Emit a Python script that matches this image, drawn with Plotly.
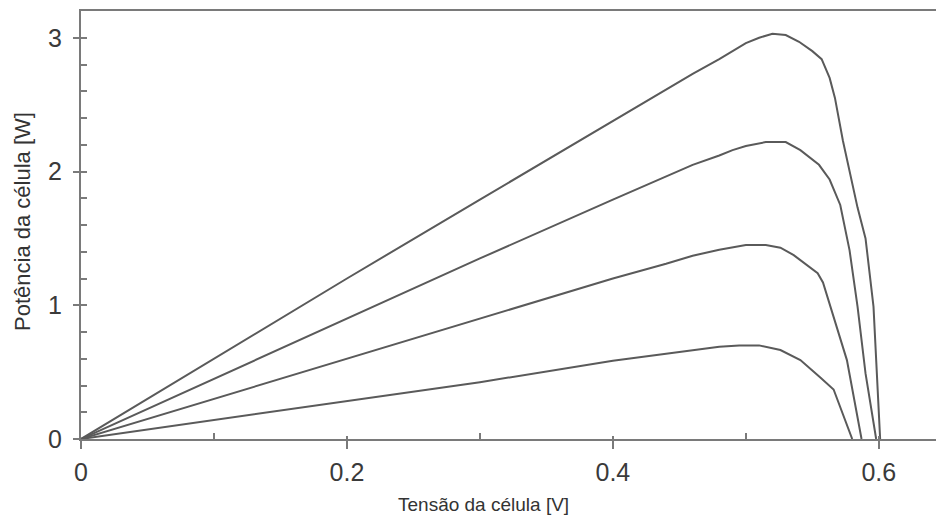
import plotly.graph_objects as go

# Data (V, P)
v1 = [0, 0.1, 0.2, 0.3, 0.4, 0.44, 0.46, 0.48, 0.49, 0.50, 0.51, 0.52, 0.53, 0.54, 0.55, 0.557, 0.563, 0.567, 0.573, 0.584, 0.590, 0.596, 0.601]
p1 = [0, 0.60, 1.20, 1.79, 2.38, 2.61, 2.73, 2.84, 2.90, 2.96, 3.00, 3.03, 3.02, 2.97, 2.90, 2.84, 2.70, 2.55, 2.23, 1.73, 1.50, 0.99, 0]

v2 = [0, 0.1, 0.2, 0.3, 0.4, 0.44, 0.46, 0.48, 0.49, 0.50, 0.515, 0.53, 0.541, 0.555, 0.563, 0.571, 0.578, 0.584, 0.590, 0.598]
p2 = [0, 0.45, 0.90, 1.35, 1.79, 1.96, 2.05, 2.12, 2.16, 2.19, 2.22, 2.22, 2.16, 2.05, 1.94, 1.75, 1.41, 0.99, 0.49, 0]

v3 = [0, 0.1, 0.2, 0.3, 0.4, 0.44, 0.46, 0.48, 0.49, 0.50, 0.515, 0.526, 0.536, 0.554, 0.558, 0.566, 0.576, 0.587]
p3 = [0, 0.30, 0.60, 0.90, 1.20, 1.31, 1.37, 1.415, 1.435, 1.45, 1.45, 1.43, 1.375, 1.24, 1.17, 0.91, 0.59, 0]

v4 = [0, 0.1, 0.2, 0.3, 0.4, 0.44, 0.46, 0.48, 0.495, 0.51, 0.526, 0.541, 0.556, 0.566, 0.580]
p4 = [0, 0.14, 0.28, 0.425, 0.585, 0.64, 0.665, 0.69, 0.70, 0.70, 0.665, 0.59, 0.46, 0.37, 0]

x_ticks = [0, 0.2, 0.4, 0.6]
x_labels = ["0", "0.2", "0.4", "0.6"]
y_ticks = [0, 1, 2, 3]
y_labels = ["0", "1", "2", "3"]

x_title = "Tensão da célula [V]"
y_title = "Potência da célula [W]"

XR = [0, 0.643]
YR = [0, 3.2]
LINE = "#5a5a5a"
AX = "#7a7a7a"
FONT = "Liberation Sans, Arial, sans-serif"

fig = go.Figure()
for v, p in [(v1, p1), (v2, p2), (v3, p3), (v4, p4)]:
    fig.add_trace(go.Scatter(x=v, y=p, mode="lines",
                             line=dict(color=LINE, width=2), hoverinfo="skip",
                             showlegend=False))
# dummy trace for overlay axes (inner half of major ticks)
fig.add_trace(go.Scatter(x=[None], y=[None], xaxis="x2", yaxis="y2", showlegend=False))

fig.update_layout(
    width=936, height=529,
    margin=dict(l=81, r=0, t=11, b=90),
    paper_bgcolor="white", plot_bgcolor="white",
    font=dict(family=FONT, color="#333333"),
    xaxis=dict(range=XR, tickvals=x_ticks, ticktext=x_labels,
               showgrid=False, zeroline=False,
               showline=True, linecolor=AX, linewidth=2, mirror=True,
               ticks="outside", ticklen=8, tickcolor=AX, tickwidth=1.5,
               tickfont=dict(size=25, color="#3a3a3a", family=FONT),
               ticklabelstandoff=2,
               minor=dict(tickvals=[0.1, 0.3, 0.5], ticks="inside", ticklen=6,
                          tickcolor=AX, tickwidth=1.5)),
    yaxis=dict(range=YR, tickvals=y_ticks, ticktext=y_labels,
               showgrid=False, zeroline=False,
               showline=True, linecolor=AX, linewidth=2,
               ticks="outside", ticklen=6, tickcolor=AX, tickwidth=1.5,
               tickfont=dict(size=25, color="#3a3a3a", family=FONT),
               ticklabelstandoff=6,
               minor=dict(tickvals=[0.2, 0.4, 0.6, 0.8, 1.2, 1.4, 1.6, 1.8,
                                    2.2, 2.4, 2.6, 2.8],
                          ticks="inside", ticklen=6, tickcolor=AX, tickwidth=1.5)),
    xaxis2=dict(overlaying="x", range=XR, tickvals=x_ticks, ticks="inside",
                ticklen=3, tickcolor=AX, tickwidth=1.5, showticklabels=False,
                showgrid=False, zeroline=False, showline=False, side="bottom",
                anchor="y"),
    yaxis2=dict(overlaying="y", range=YR, tickvals=y_ticks, ticks="inside",
                ticklen=6, tickcolor=AX, tickwidth=1.5, showticklabels=False,
                showgrid=False, zeroline=False, showline=False, side="left",
                anchor="x"),
    annotations=[
        dict(text=x_title, xref="paper", yref="paper", x=(483 - 81) / 855,
             y=-(517 - 439) / 428, xanchor="center", yanchor="bottom",
             showarrow=False, font=dict(size=19, color="#333333", family=FONT)),
        dict(text=y_title, xref="paper", yref="paper", x=-(81 - 22) / 855,
             y=(439 - 222) / 428, xanchor="center", yanchor="middle",
             textangle=-90, showarrow=False,
             font=dict(size=22, color="#333333", family=FONT)),
    ],
)

fig.write_html("out.html")
